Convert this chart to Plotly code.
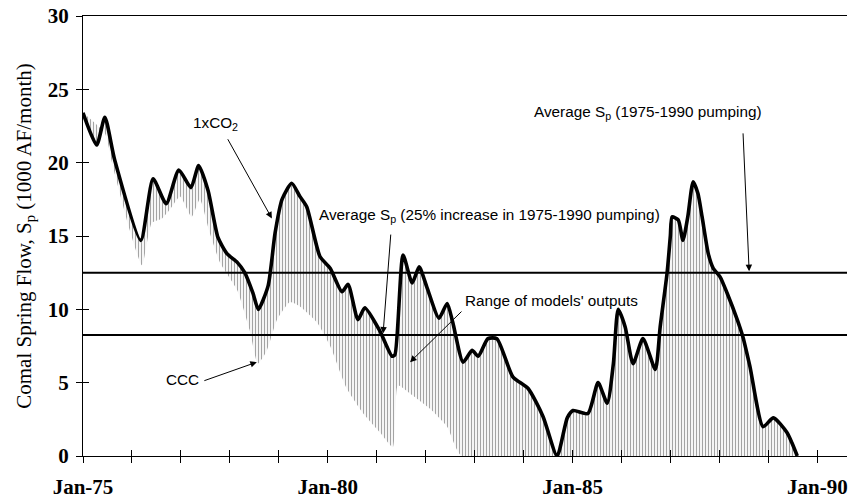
import plotly.graph_objects as go

# ---- data ----
co2_dates = ["1975-01-01", "1975-04-13", "1975-06-13", "1975-08-25", "1976-03-07", "1976-06-07",
             "1976-09-13", "1976-12-16", "1977-03-16", "1977-05-13", "1977-07-22", "1977-10-04",
             "1977-12-10", "1978-02-25", "1978-04-22", "1978-06-22", "1978-08-01", "1978-10-13",
             "1978-12-04", "1979-01-25", "1979-04-07", "1979-06-07", "1979-07-28", "1979-11-04",
             "1980-01-19", "1980-04-16", "1980-06-01", "1980-08-13", "1980-10-04", "1981-01-25",
             "1981-04-25", "1981-05-16", "1981-07-16", "1981-09-22", "1981-11-13", "1982-01-10",
             "1982-04-10", "1982-06-10", "1982-07-22", "1982-10-07", "1982-12-13", "1983-01-28",
             "1983-04-10", "1983-06-16", "1983-10-13", "1984-02-04", "1984-05-25", "1984-09-07",
             "1984-11-22", "1985-01-04", "1985-04-25", "1985-07-10", "1985-09-16", "1985-11-01",
             "1985-12-07", "1986-01-28", "1986-03-28", "1986-06-10", "1986-09-10", "1986-10-16",
             "1986-12-07", "1986-12-31", "1987-01-13", "1987-02-28", "1987-04-04", "1987-05-10",
             "1987-06-19", "1987-07-25", "1987-08-25", "1987-10-10", "1987-11-16", "1988-01-07",
             "1988-02-28", "1988-05-13", "1988-06-25", "1988-08-16", "1988-11-22", "1989-02-07",
             "1989-05-19", "1989-06-25", "1989-08-04"]
co2_flow = [23.4, 21.2, 23.1, 20.2, 14.7, 18.9,
            17.2, 19.5, 18.3, 19.8, 18.1, 14.9,
            13.8, 13.2, 12.5, 11.1, 10.0, 11.6,
            15.2, 17.5, 18.6, 17.7, 17.0, 13.6,
            12.8, 11.2, 11.7, 9.3, 10.1, 8.5,
            6.8, 6.9, 13.7, 11.8, 12.9, 11.5,
            9.4, 10.4, 9.1, 6.4, 7.2, 6.8,
            8.0, 8.0, 5.4, 4.6, 2.7, 0.0,
            2.6, 3.1, 2.9, 5.0, 3.6, 6.3,
            10.0, 8.8, 6.3, 8.0, 5.9, 8.8,
            12.5, 15.0, 16.3, 16.1, 14.7, 16.3,
            18.7, 17.9, 16.3, 13.8, 12.8, 12.2,
            11.1, 9.3, 8.1, 6.1, 2.0, 2.6,
            1.6, 0.9, 0.0]

ccc_dates = ["1975-01-01", "1975-06-13", "1975-08-13", "1975-12-16", "1976-03-16", "1976-05-28",
             "1976-08-13", "1976-10-10", "1976-12-25", "1977-03-22", "1977-05-22", "1977-08-04",
             "1977-10-19", "1978-02-25", "1978-05-28", "1978-07-28", "1978-10-04", "1978-12-19",
             "1979-03-25", "1979-06-07", "1979-10-13", "1980-01-19", "1980-05-22", "1980-09-22",
             "1981-01-25", "1981-05-01", "1981-06-07", "1981-09-28", "1982-02-04", "1982-06-10",
             "1982-09-28", "1989-08-04"]
ccc_flow = [23.4, 22.0, 19.7, 15.4, 13.0, 15.9,
            16.2, 16.8, 17.7, 16.3, 17.5, 15.2,
            13.2, 11.3, 8.6, 6.3, 7.2, 9.3,
            10.5, 10.2, 9.1, 7.5, 4.6, 2.9,
            1.6, 0.6, 4.8, 4.1, 3.2, 2.0,
            0.0, 0.0]

avg_25pct = 8.25      # Average Sp (25% increase in 1975-1990 pumping)
avg_base = 12.5       # Average Sp (1975-1990 pumping)

x_tick_vals = ["%d-01-01" % y for y in range(1975, 1991)]
x_tick_text = ["Jan-75", "", "", "", "", "Jan-80", "", "", "", "", "Jan-85", "", "", "", "", "Jan-90"]
y_tick_vals = [0, 5, 10, 15, 20, 25, 30]

x_range = ["1975-01-01", "1990-08-10"]
y_range = [0, 30]

SERIF = "Liberation Serif"
SANS = "Liberation Sans"

fig = go.Figure()

# lower bound of models' range (invisible)
fig.add_trace(go.Scatter(x=ccc_dates, y=ccc_flow, mode="lines",
                         line=dict(width=0, shape="spline", smoothing=0.5),
                         hoverinfo="skip", showlegend=False))
# hatched range up to 1xCO2
fig.add_trace(go.Scatter(x=co2_dates, y=co2_flow, mode="lines",
                         line=dict(width=0, shape="spline", smoothing=0.6),
                         fill="tonexty", fillcolor="rgba(255,255,255,0)",
                         fillpattern=dict(shape="|", size=3, solidity=0.4,
                                          fgcolor="#4a4a4a", fillmode="overlay"),
                         hoverinfo="skip", showlegend=False))
# average lines
for v in (avg_base, avg_25pct):
    fig.add_trace(go.Scatter(x=x_range, y=[v, v], mode="lines",
                             line=dict(color="black", width=2),
                             xaxis="x2", yaxis="y2", hoverinfo="skip", showlegend=False))
# 1xCO2 line
fig.add_trace(go.Scatter(x=co2_dates, y=co2_flow, mode="lines",
                         line=dict(color="black", width=3.6, shape="spline", smoothing=0.6),
                         showlegend=False))

tickfont = dict(family=SERIF, size=21, color="black", weight="bold")
fig.update_layout(
    width=848, height=500,
    margin=dict(l=83, r=1, t=16, b=44),
    plot_bgcolor="white", paper_bgcolor="white",
    xaxis=dict(type="date", range=x_range, tickvals=x_tick_vals, ticktext=x_tick_text,
               ticks="outside", ticklen=6, tickcolor="black", tickwidth=1,
               showline=True, linecolor="black", linewidth=1, mirror=True,
               showgrid=False, zeroline=False, tickfont=tickfont, ticklabelstandoff=6,
               automargin=False),
    yaxis=dict(range=y_range, tickvals=y_tick_vals, ticks="outside", ticklen=6,
               tickcolor="black", tickwidth=1, showline=True, linecolor="black",
               linewidth=1, showgrid=False, zeroline=False, tickfont=tickfont,
               ticklabelstandoff=3, automargin=False,
               title=dict(text="Comal Spring Flow, S<sub>p</sub> (1000 AF/month)",
                          font=dict(family=SERIF, size=21, color="black"), standoff=10)),
    xaxis2=dict(type="date", range=x_range, overlaying="x", anchor="y", side="bottom",
                tickvals=x_tick_vals, ticks="inside", ticklen=6, tickcolor="black",
                showticklabels=False, showgrid=False, zeroline=False, showline=False,
                automargin=False),
    yaxis2=dict(range=y_range, overlaying="y", anchor="x", side="left",
                tickvals=y_tick_vals, ticks="inside", ticklen=6, tickcolor="black",
                showticklabels=False, showgrid=False, zeroline=False, showline=False,
                automargin=False),
)

afont = dict(family=SANS, size=15.3, color="black")
labels = [
    ("1977-09-12", 22.7, "1xCO<sub>2</sub>"),
    ("1983-04-25", 16.4, "Average S<sub>p</sub> (25% increase in 1975-1990 pumping)"),
    ("1984-07-25", 10.6, "Range of models' outputs"),
    ("1977-01-16", 5.25, "CCC"),
    ("1986-07-16", 23.4, "Average S<sub>p</sub> (1975-1990 pumping)"),
]
for x, y, t in labels:
    fig.add_annotation(x=x, y=y, text=t, showarrow=False, font=afont)

arrows = [
    # (head x, head y, tail x, tail y)
    ("1978-11-10", 16.2, "1977-12-10", 21.7),
    ("1981-02-17", 8.35, "1981-04-16", 15.2),
    ("1981-09-06", 6.4, "1982-10-06", 9.95),
    ("1978-07-21", 6.4, "1977-06-13", 5.1),
    ("1988-08-10", 12.6, "1988-06-25", 22.1),
]
for hx, hy, tx, ty in arrows:
    fig.add_annotation(x=hx, y=hy, ax=tx, ay=ty, axref="x", ayref="y", text="",
                       showarrow=True, arrowhead=2, arrowsize=1.3, arrowwidth=1,
                       arrowcolor="black", standoff=0, startstandoff=0,
                       font=dict(size=1))

fig.write_html("out.html", config={"displayModeBar": False},
               post_script="document.body.style.margin='0';")
